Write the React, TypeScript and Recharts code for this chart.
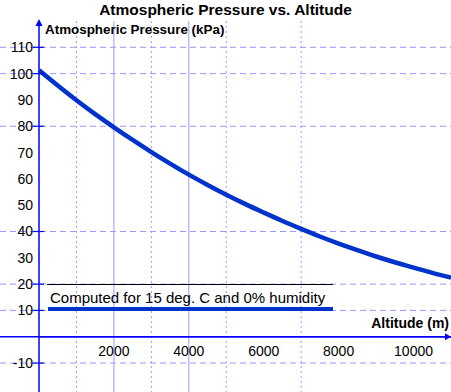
import React from "react";
import {
  LineChart,
  Line,
  XAxis,
  YAxis,
  CartesianGrid,
  ReferenceLine,
} from "recharts";

const altitude = [
  0, 500, 1000, 1500, 2000, 2500, 3000, 3500, 4000, 4500, 5000, 5500, 6000,
  6500, 7000, 7500, 8000, 8500, 9000, 9500, 10000, 10500, 11000,
];
const pressure = [
  101.3, 95.5, 89.9, 84.6, 79.6, 74.8, 70.2, 65.8, 61.6, 57.7, 54.0, 50.5,
  47.2, 44.0, 41.0, 38.1, 35.4, 32.9, 30.5, 28.3, 26.3, 24.3, 22.5,
];
const xTicks = [2000, 4000, 6000, 8000, 10000];
const yTicks = [-10, 10, 20, 30, 40, 50, 60, 70, 80, 90, 100, 110];
const hGrid = [110, 100, 80, 40, 20, 10, -10];
const vGridSolid = [2000, 4000];
const vGridDotted = [1000, 3000, 5000, 7000];

const data = altitude.map((a, i) => ({ altitude: a, pressure: pressure[i] }));

const AXIS = "#0000ff";
const GRID = "#9999ff";
const CURVE = "#0033cc";
const FONT = '"Liberation Sans", Arial, sans-serif';

const XTick = (props: any) => {
  const { x, payload } = props;
  return (
    <text x={x} y={356} textAnchor="middle" fontSize={14} fontFamily={FONT} fill="#000">
      {payload.value}
    </text>
  );
};

const YTick = (props: any) => {
  const { y, payload } = props;
  const v = payload.value;
  return (
    <g>
      <text x={33} y={y} dy={5} textAnchor="end" fontSize={14} fontFamily={FONT} fill="#000">
        {v}
      </text>
      {hGrid.includes(v) && (
        <line x1={33} x2={44} y1={y} y2={y} stroke={AXIS} strokeWidth={1.2} />
      )}
    </g>
  );
};

const YArrow = (props: any) => {
  const { x, y } = props.viewBox;
  return (
    <g>
      <polygon points={`${x},${y - 2} ${x - 3.5},${y + 5} ${x + 3.5},${y + 5}`} fill={AXIS} />
      <text x={x + 6} y={y + 13} fontSize={13.4} fontWeight="bold" fontFamily={FONT} fill="#000">
        Atmospheric Pressure (kPa)
      </text>
    </g>
  );
};

const XArrow = (props: any) => {
  const { x, y, width } = props.viewBox;
  const r = x + width;
  return (
    <g>
      <polygon points={`${r},${y} ${r - 6},${y - 3.5} ${r - 6},${y + 3.5}`} fill={AXIS} />
      <text x={r - 2} y={y - 9} textAnchor="end" fontSize={14} fontWeight="bold" fontFamily={FONT} fill="#000">
        Altitude (m)
      </text>
    </g>
  );
};

export default function App() {
  return (
    <div
      style={{
        position: "absolute",
        left: 0,
        top: 0,
        width: 451,
        height: 392,
        overflow: "hidden",
        fontFamily: FONT,
        background: "#fff",
      }}
    >
      <div
        style={{
          position: "absolute",
          left: 0,
          top: 1,
          width: 451,
          textAlign: "center",
          fontSize: 15.5,
          lineHeight: "18px",
          fontWeight: "bold",
          zIndex: 2,
        }}
      >
        Atmospheric Pressure vs. Altitude
      </div>
      <LineChart width={451} height={392} data={data} margin={{ top: 21, right: 0, bottom: -1, left: 0 }}>
        <CartesianGrid x={0} width={451} vertical={false} horizontalValues={hGrid} stroke={GRID} strokeDasharray="6 4" />
        <CartesianGrid horizontal={false} verticalValues={vGridSolid} stroke={GRID} />
        <CartesianGrid horizontal={false} verticalValues={vGridDotted} stroke={GRID} strokeDasharray="2 3" />
        <CartesianGrid x={0} width={451} vertical={false} horizontalValues={[0]} stroke={AXIS} strokeWidth={1.5} />
        <XAxis
          dataKey="altitude"
          type="number"
          domain={[0, 11000]}
          ticks={xTicks}
          height={1}
          axisLine={false}
          tickLine={false}
          tick={<XTick />}
          interval={0}
        />
        <YAxis
          type="number"
          domain={[-21, 120]}
          ticks={yTicks}
          width={39}
          axisLine={false}
          tickLine={false}
          tick={<YTick />}
          interval={0}
        />
        <ReferenceLine x={0} stroke={AXIS} strokeWidth={1.5} label={<YArrow />} />
        <ReferenceLine y={0} stroke={AXIS} strokeWidth={1.5} label={<XArrow />} />
        <Line
          dataKey="pressure"
          type="monotone"
          stroke={CURVE}
          strokeWidth={4.5}
          dot={false}
          isAnimationActive={false}
        />
      </LineChart>
      <div
        style={{
          position: "absolute",
          left: 47,
          top: 284,
          width: 286,
          height: 28,
          borderTop: "1px solid #000",
        }}
      >
        <div style={{ position: "absolute", left: 3, top: 4, fontSize: 15, lineHeight: "17px", whiteSpace: "nowrap" }}>
          Computed for 15 deg. C and 0% humidity
        </div>
        <div style={{ position: "absolute", left: 1, top: 22, width: 285, height: 4, background: CURVE }} />
      </div>
    </div>
  );
}
